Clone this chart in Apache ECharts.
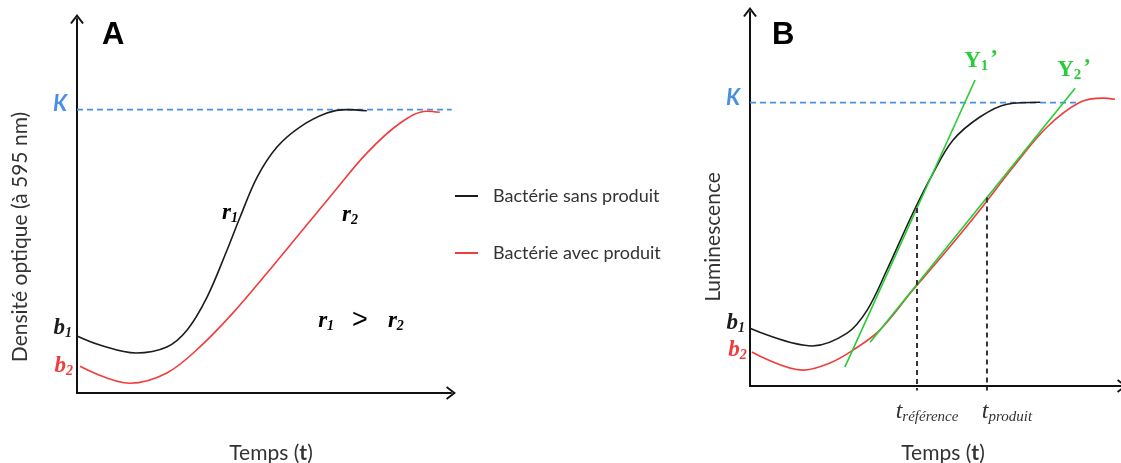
<!DOCTYPE html>
<html>
<head>
<meta charset="utf-8">
<script src="https://cdn.jsdelivr.net/npm/echarts@6/dist/echarts.min.js"></script>
<style>
  html, body { margin: 0; padding: 0; background: #fff; }
  #chart { width: 1121px; height: 463px; }
</style>
</head>
<body>
<div id="chart"></div>
<script>
// Panel A: optical density growth curves (time, OD)
const odSansProduit = [[0,15.1],[6.1,12.7],[15.7,10.6],[23.9,12.2],[29.3,16.7],[34.6,25.4],[39.9,37.8],[43.4,46.6],[47.9,57.1],[53.2,65.1],[59.3,70.4],[66.5,74.1],[71.8,75.0],[77.1,74.7]];
const odAvecProduit = [[0.8,7.1],[14.1,2.6],[23.9,5.3],[32.7,12.2],[41.5,21.2],[50.5,31.7],[59.3,42.3],[68.1,52.9],[77.1,63.5],[85.9,71.4],[93.1,74.6],[96.5,74.3]];
const plateauA = [[0,75],[99.7,75]];

// Panel B: luminescence curves (time, luminescence)
const lumSansProduit = [[0,15.3],[16.7,10.6],[26.1,14.0],[31.5,20.1],[36.8,30.7],[43.8,45.8],[49.2,56.3],[54.6,65.1],[61.8,71.2],[69.1,74.6],[78.0,75.1]];
const lumAvecProduit = [[0.5,9.0],[14.2,4.2],[21.5,6.1],[27.7,9.5],[34.9,14.8],[43.8,25.4],[53.0,36.0],[61.8,46.6],[70.7,57.9],[79.8,68.5],[88.7,75.1],[94.9,76.2],[98.1,75.9]];
const plateauB = [[0,75],[87.9,75]];

// Tangents at the inflection points and the times they mark
const tangentY1 = [[25.5,5.0],[60.5,81.0]];
const tangentY2 = [[32.3,11.6],[87.4,78.8]];
const tReference = 44.9;
const tProduit = 63.7;
const axisFloor = -1.2;

const seriesNames = ['Bactérie sans produit', 'Bactérie avec produit'];

const BLACK = '#1c1c1c', RED = '#f03c3c', BLUE = '#4a90e2', GREEN = '#27cc36', TEXT = '#333';

function onLine(seg, x) {
  const [[x0, y0], [x1, y1]] = seg;
  return y0 + (x - x0) * (y1 - y0) / (x1 - x0);
}

const serifRich = (color) => ({
  v: { fontFamily: 'Liberation Serif', fontStyle: 'italic', fontWeight: 'bold', fontSize: 23, color: color, verticalAlign: 'middle' },
  s: { fontFamily: 'Liberation Serif', fontStyle: 'italic', fontWeight: 'bold', fontSize: 14, color: color, padding: [11, 0, 0, 0], verticalAlign: 'middle' }
});

// open arrow head drawn at the end of each axis
const chevron = 'path://M10,0 L20,13 L17.6,14.6 L10,4.6 L2.4,14.6 L0,13 Z';

function axisPair(idx, xMax, yMax, nameGap) {
  const axisLine = { show: true, onZero: false, symbol: ['none', chevron], symbolSize: [14, 10],
    lineStyle: { color: '#111', width: 2 } };
  return {
    x: { type: 'value', gridIndex: idx, min: 0, max: xMax, axisLine: axisLine,
      axisTick: { show: false }, axisLabel: { show: false }, splitLine: { show: false },
      name: '{n|Temps (}{b|t}{n|)}', nameLocation: 'middle', nameGap: nameGap,
      nameTextStyle: { padding: [0, 0, 0, 14], rich: {
        n: { fontFamily: 'Lato', fontSize: 21, color: TEXT },
        b: { fontFamily: 'Lato', fontSize: 21, fontWeight: 'bold', color: TEXT } } } },
    y: { type: 'value', gridIndex: idx, min: 0, max: yMax, axisLine: axisLine,
      axisTick: { show: false }, axisLabel: { show: false }, splitLine: { show: false } }
  };
}

const axA = axisPair(0, 99.5, 99, 50);
const axB = axisPair(1, 100, 99, 57);

// invisible point marker so a label can sit on a chosen data point
const hiddenPoint = { symbol: 'circle', symbolSize: 0, showSymbol: true };

function curve(name, idx, data, color, label) {
  const pts = data.map((p, i) => i === 0 && label ? { value: p, label: label } : p);
  return Object.assign({ name: name, type: 'line', xAxisIndex: idx, yAxisIndex: idx, data: pts,
    smooth: 0.35, clip: false, z: 3,
    lineStyle: { color: color, width: 1.6 }, itemStyle: { color: color } }, hiddenPoint);
}

function startLabel(text, color, offset) {
  return { show: true, position: 'left', distance: 5, offset: offset,
    formatter: text, rich: serifRich(color) };
}

function kLine(idx, data, offset) {
  return Object.assign({ type: 'line', xAxisIndex: idx, yAxisIndex: idx, z: 2, clip: false,
    data: [{ value: data[0], label: { show: true, position: 'left', distance: 10, offset: offset,
      formatter: 'K', fontFamily: 'Lato', fontStyle: 'italic', fontWeight: 'bold', fontSize: 22, color: BLUE } }, data[1]],
    lineStyle: { color: BLUE, width: 1.6, type: [6, 4] }, itemStyle: { color: BLUE } }, hiddenPoint);
}

function tangent(seg, sub, offset) {
  return Object.assign({ type: 'line', xAxisIndex: 1, yAxisIndex: 1, z: 4, clip: false,
    data: [seg[0], { value: seg[1], label: { show: true, position: 'top', distance: 6, offset: offset,
      formatter: '{y|Y}{s|' + sub + '}{p|\u2019}',
      rich: {
        y: { fontFamily: 'Liberation Serif', fontWeight: 'bold', fontSize: 23, color: GREEN, verticalAlign: 'middle' },
        s: { fontFamily: 'Liberation Serif', fontWeight: 'bold', fontSize: 15, color: GREEN, padding: [10, 0, 0, 0], verticalAlign: 'middle' },
        p: { fontFamily: 'Liberation Serif', fontWeight: 'bold', fontSize: 23, color: GREEN, padding: [0, 0, 4, 2], verticalAlign: 'middle' }
      } } }],
    lineStyle: { color: GREEN, width: 1.6 }, itemStyle: { color: GREEN } }, hiddenPoint);
}

function dropLine(t, seg, sub, offset) {
  return Object.assign({ type: 'line', xAxisIndex: 1, yAxisIndex: 1, z: 4, clip: false,
    data: [[t, onLine(seg, t)], { value: [t, axisFloor], label: { show: true, position: 'bottom', distance: 8,
      offset: offset, formatter: '{t|t}{s|' + sub + '}',
      rich: {
        t: { fontFamily: 'Liberation Serif', fontStyle: 'italic', fontSize: 24, color: TEXT, verticalAlign: 'middle' },
        s: { fontFamily: 'Liberation Serif', fontStyle: 'italic', fontSize: 15, color: TEXT, padding: [11, 0, 0, 0], verticalAlign: 'middle' }
      } } }],
    lineStyle: { color: '#333', width: 2, type: [5, 4] }, itemStyle: { color: '#333' } }, hiddenPoint);
}

const chart = echarts.init(document.getElementById('chart'), null, { renderer: 'canvas' });

chart.setOption({
  animation: false,
  backgroundColor: '#fff',
  grid: [
    { left: 77, top: 19, width: 374, height: 374, containLabel: false, outerBoundsMode: 'none' },
    { left: 750, top: 12, width: 372, height: 374, containLabel: false, outerBoundsMode: 'none' }
  ],
  xAxis: [axA.x, axB.x],
  yAxis: [axA.y, axB.y],
  legend: {
    data: seriesNames, orient: 'vertical', left: 450, top: 180, itemGap: 35,
    icon: 'rect', itemWidth: 23, itemHeight: 2,
    textStyle: { fontFamily: 'Lato', fontSize: 18, color: TEXT, lineHeight: 22, padding: [0, 0, 0, 10] },
    selectedMode: false
  },
  series: [
    kLine(0, plateauA, [0, -6]),
    curve(seriesNames[0], 0, odSansProduit, BLACK, startLabel('{v|b}{s|1}', BLACK, [0, -8])),
    curve(seriesNames[1], 0, odAvecProduit, RED, startLabel('{v|b}{s|2}', RED, [-2, 0])),
    kLine(1, plateauB, [0, -5]),
    curve(seriesNames[0], 1, lumSansProduit, BLACK, startLabel('{v|b}{s|1}', BLACK, [0, -5])),
    curve(seriesNames[1], 1, lumAvecProduit, RED, startLabel('{v|b}{s|2}', RED, [0, -2])),
    tangent(tangentY1, '1', [6, 1]),
    tangent(tangentY2, '2', [-1, 1]),
    dropLine(tReference, tangentY1, 'référence', [10, 0]),
    dropLine(tProduit, tangentY2, 'produit', [20, 0])
  ],
  graphic: [
    { type: 'text', left: 102, top: 20, style: { text: 'A', font: 'bold 31px "Liberation Sans"', fill: '#000' } },
    { type: 'text', left: 772, top: 20, style: { text: 'B', font: 'bold 31px "Liberation Sans"', fill: '#000' } },
    { type: 'text', x: 20, y: 237, rotation: Math.PI / 2,
      style: { text: 'Densité optique (à 595 nm)', font: '21px Lato', fill: TEXT, align: 'center', verticalAlign: 'middle' } },
    { type: 'text', x: 713, y: 237, rotation: Math.PI / 2,
      style: { text: 'Luminescence', font: '21px Lato', fill: TEXT, align: 'center', verticalAlign: 'middle' } },
    { type: 'text', x: 230, y: 213, style: { text: '{v|r}{s|1}', rich: serifRich(BLACK), align: 'center', verticalAlign: 'middle' } },
    { type: 'text', x: 350, y: 215, style: { text: '{v|r}{s|2}', rich: serifRich(RED), align: 'center', verticalAlign: 'middle' } },
    { type: 'text', x: 361, y: 321, style: {
      text: '{v|r}{s|1}{g|>}{rv|r}{rs|2}', align: 'center', verticalAlign: 'middle',
      rich: Object.assign({}, serifRich(BLACK), {
        g: { fontFamily: 'Liberation Sans', fontSize: 27, color: BLACK, padding: [0, 20, 0, 18], verticalAlign: 'middle' },
        rv: serifRich(RED).v, rs: serifRich(RED).s
      }) } }
  ]
});
</script>
</body>
</html>
